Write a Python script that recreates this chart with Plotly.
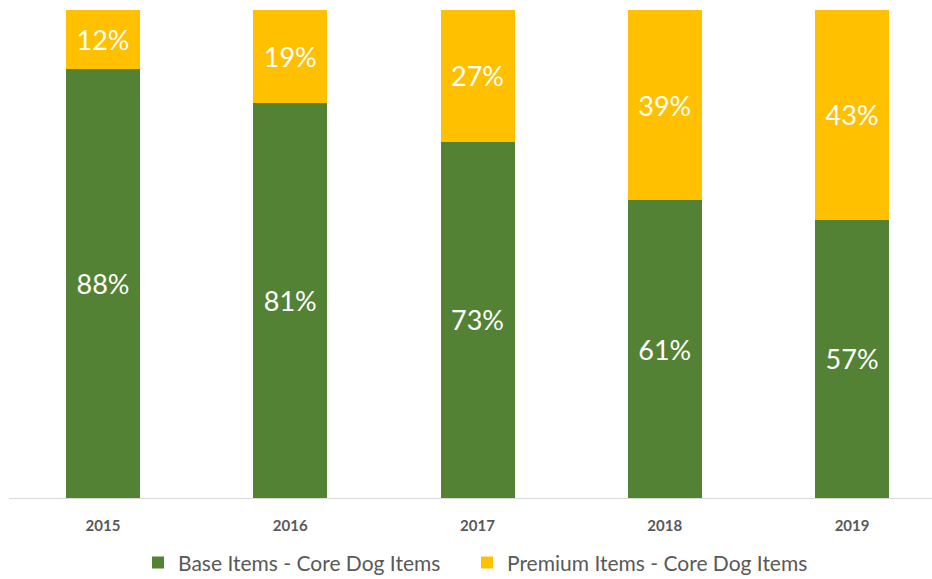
import plotly.graph_objects as go

years = ["2015", "2016", "2017", "2018", "2019"]
base_items = [88, 81, 73, 61, 57]
premium_items = [12, 19, 27, 39, 43]

GREEN = "#548235"
YELLOW = "#FFC000"
GRAY = "#595959"
FONT = "Lato, 'Open Sans', sans-serif"

fig = go.Figure()
fig.add_trace(go.Bar(
    x=years, y=base_items, name="Base Items - Core Dog Items",
    marker=dict(color=GREEN, line=dict(width=0)),
    text=[f"{v}%" for v in base_items], textposition="inside",
    insidetextanchor="middle",
    textfont=dict(color="white", size=27, family=FONT),
    width=0.395, legend="legend",
))
fig.add_trace(go.Bar(
    x=years, y=premium_items, name="Premium Items - Core Dog Items",
    marker=dict(color=YELLOW, line=dict(width=0)),
    text=[f"{v}%" for v in premium_items], textposition="inside",
    insidetextanchor="middle",
    textfont=dict(color="white", size=27, family=FONT),
    width=0.395, legend="legend2",
))

legend_style = dict(
    orientation="h", xref="container", xanchor="left",
    yref="container", y=0.028, yanchor="middle",
    font=dict(size=21, color=GRAY, family=FONT),
    itemwidth=30, bgcolor="rgba(0,0,0,0)",
)

fig.update_layout(
    barmode="stack",
    width=932, height=579,
    margin=dict(l=9, r=0, t=10, b=81, autoexpand=False),
    paper_bgcolor="white", plot_bgcolor="white",
    font=dict(family=FONT, color=GRAY),
    uniformtext=dict(minsize=8, mode="show"),
    showlegend=True,
    legend=dict(x=138 / 932, **legend_style),
    legend2=dict(x=467 / 932, **legend_style),
    xaxis=dict(
        type="category", range=[-0.502, 4.427], automargin=False,
        showline=True, linecolor="#D9D9D9", linewidth=1,
        showgrid=False, ticks="",
        tickfont=dict(size=15, color=GRAY, family=FONT, weight="bold"),
        ticklabelstandoff=14,
    ),
    yaxis=dict(range=[0, 100], visible=False, showgrid=False, automargin=False),
)

fig.write_html("out.html")
